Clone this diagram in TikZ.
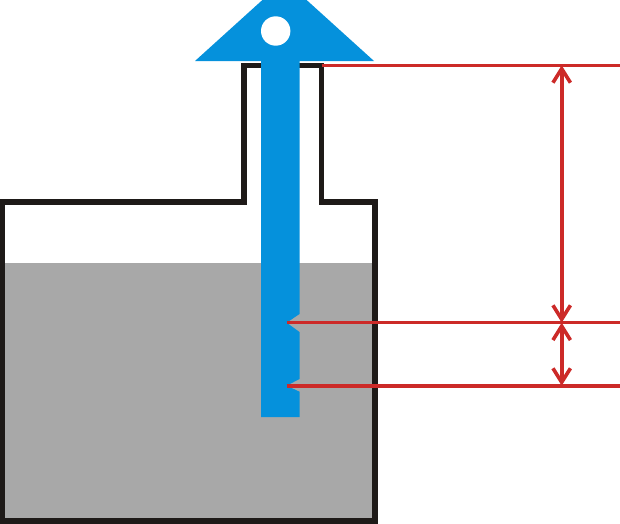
\documentclass[tikz,border=0pt]{standalone}
\usetikzlibrary{arrows.meta}
\definecolor{tankgray}{HTML}{A8A8A8}
\definecolor{floatblue}{HTML}{0591DC}
\definecolor{dimred}{HTML}{CC2A28}
\definecolor{wallblack}{HTML}{1E1A18}
\tikzset{
    wall/.style={draw=wallblack,line width=1.05mm,miter limit=10},
    dimline/.style={draw=dimred,line width=0.72mm},
    dimarrow/.style={dimline,{Straight Barb[length=2.8mm,width=3.5mm,line width=0.72mm]}-{Straight Barb[length=2.8mm,width=3.5mm,line width=0.72mm]}},
}
\begin{document}
\begin{tikzpicture}[x=0.02cm,y=-0.02cm]
    \pgfmathsetmacro{\stemleft}{261}
    \pgfmathsetmacro{\stemright}{299.5}
    \pgfmathsetmacro{\dimx}{561.7}
    \useasboundingbox (0,0) rectangle (620,524);
    \clip (0,0) rectangle (620,524);
    % liquid
    \fill[tankgray] (3,263) rectangle (375,521);
    % tank
    \draw[wall] (244,65.5) -- (244,202) -- (2.5,202) -- (2.5,521) -- (375,521) -- (375,202) -- (321.5,202) -- (321.5,65.5) -- cycle;
    % float
    \fill[floatblue] (195,61) -- (284.5,-20) -- (374,61) -- (\stemright,61) -- (\stemright,314) -- (286.7,322.7) -- (\stemright,332)
        -- (\stemright,379) -- (286.7,385.7) -- (\stemright,391.7) -- (\stemright,417) -- (\stemleft,417) -- (\stemleft,61) -- cycle;
    \fill[white] (275.7,31) circle (14.7);
    % levels
    \coordinate (toplevel) at (321.5,65.3);
    \coordinate (midlevel) at (286.7,322.7);
    \coordinate (lowlevel) at (286.7,385.7);
    \coordinate (topend) at (620,65.3);
    \coordinate (midend) at (620,322.7);
    \coordinate (lowend) at (620,385.7);
    \coordinate (topdim) at (\dimx,65.3);
    \coordinate (middim) at (\dimx,322.7);
    \coordinate (lowdim) at (\dimx,385.7);
    \draw[dimline] (toplevel) -- (topend);
    \draw[dimline] (midlevel) -- (midend);
    \draw[dimline] (lowlevel) -- (lowend);
    \draw[dimarrow] (topdim) -- (middim);
    \draw[dimarrow] (middim) -- (lowdim);
\end{tikzpicture}
\end{document}
